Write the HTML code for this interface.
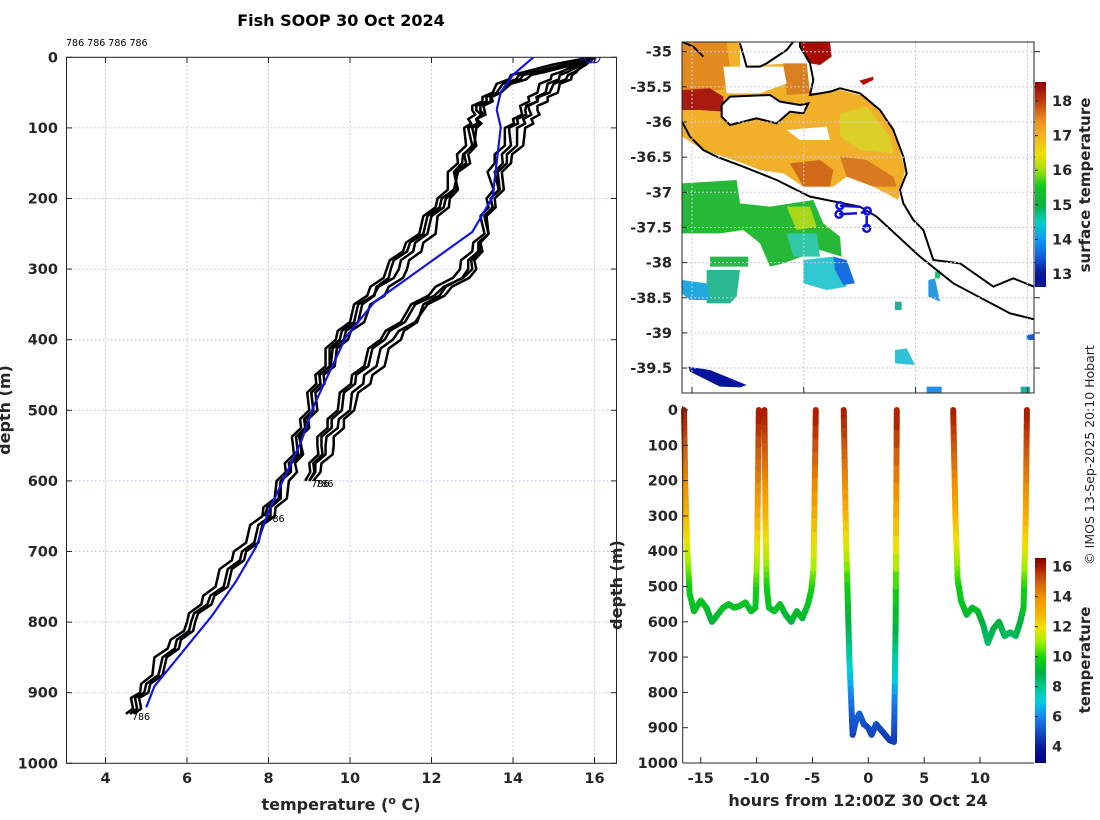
<!DOCTYPE html>
<html><head><meta charset="utf-8"><style>
html,body{margin:0;padding:0;background:#fff}
svg{display:block;font-family:"DejaVu Sans","Liberation Sans",sans-serif}
.tk{font-size:14.5px;font-weight:bold;fill:#262626}
.lb{font-size:16px;font-weight:bold;fill:#262626}
</style></head><body>
<svg id="s" width="1100" height="820" viewBox="0 0 1100 820">
<defs>
<linearGradient id="gTop" x1="0" y1="1" x2="0" y2="0">
<stop offset="0" stop-color="#0a1490"/><stop offset="0.07" stop-color="#0a1a9a"/><stop offset="0.15" stop-color="#1060e0"/><stop offset="0.24" stop-color="#10a0f0"/><stop offset="0.32" stop-color="#00d0c0"/><stop offset="0.4" stop-color="#10b040"/><stop offset="0.49" stop-color="#10c820"/><stop offset="0.57" stop-color="#a0e010"/><stop offset="0.65" stop-color="#f0e000"/><stop offset="0.74" stop-color="#f8b020"/><stop offset="0.82" stop-color="#e88a20"/><stop offset="0.9" stop-color="#c04010"/><stop offset="1" stop-color="#900000"/>
</linearGradient>
<linearGradient id="gBot" x1="0" y1="1" x2="0" y2="0">
<stop offset="0" stop-color="#000080"/><stop offset="0.08" stop-color="#0a1a9a"/><stop offset="0.22" stop-color="#1a80f0"/><stop offset="0.3" stop-color="#00d0e0"/><stop offset="0.37" stop-color="#00c890"/><stop offset="0.44" stop-color="#00b040"/><stop offset="0.51" stop-color="#10d010"/><stop offset="0.59" stop-color="#a0f000"/><stop offset="0.66" stop-color="#f0e000"/><stop offset="0.73" stop-color="#f8b000"/><stop offset="0.81" stop-color="#f09000"/><stop offset="0.88" stop-color="#d06010"/><stop offset="0.95" stop-color="#b02000"/><stop offset="1" stop-color="#800000"/>
</linearGradient>
<clipPath id="cMap"><rect x="682" y="42" width="352" height="351"/></clipPath>
<clipPath id="cLeft"><rect x="66.5" y="57.3" width="550" height="706"/></clipPath>
<clipPath id="cTopLab"><rect x="660" y="393" width="400" height="13"/></clipPath>
</defs>

<text x="341" y="26" text-anchor="middle" style="font-size:16px;font-weight:bold">Fish SOOP 30 Oct 2024</text>
<text x="66" y="46" style="font-size:9.5px">786 786 786 786</text>

<g id="left"></g>

<g>
<rect x="682" y="42" width="352" height="351" fill="#fff"/>
<g clip-path="url(#cMap)">
<g transform="translate(660 30) scale(0.33333)">
<polygon fill="#f2b02a" points="66,35 240,35 240,110 380,100 440,100 450,190 540,180 620,200 700,290 735,420 715,510 640,470 560,440 520,470 430,470 370,430 300,420 250,400 130,360 66,320"/>
<polygon fill="#e08a20" points="66,35 200,35 210,120 190,180 66,180"/>
<polygon fill="#a81c10" points="66,180 150,175 190,200 190,245 120,240 66,240"/>
<polygon fill="#d98020" points="370,100 440,100 450,190 380,195"/>
<polygon fill="#d06a18" points="390,400 480,390 520,420 510,470 430,470"/>
<polygon fill="#d97a20" points="540,380 620,390 700,440 710,470 640,470 560,440"/>
<polygon fill="#dcd028" points="540,250 620,230 690,320 700,370 600,360 540,320"/>
<polygon fill="#fff" points="190,110 370,110 380,160 300,190 200,190"/>
<polygon fill="#fff" points="240,35 400,35 400,60 320,100 260,110"/>
<polygon fill="#a80c00" points="420,35 510,35 515,80 480,105 450,100 425,60"/>
<polygon fill="#b01000" points="598,152 640,140 640,150 610,165"/>
<polygon fill="#fff" points="380,300 500,290 510,330 420,330"/>
<polygon fill="#28b838" points="66,460 230,450 240,520 330,530 460,510 490,580 540,620 545,680 480,660 370,700 330,710 300,640 250,600 180,610 66,610"/>
<polygon fill="#a8d818" points="380,530 450,530 470,590 410,600"/>
<polygon fill="#30c8a8" points="380,610 470,610 480,680 400,680"/>
<polygon fill="#2ab84a" points="150,680 265,680 265,710 150,710"/>
<polygon fill="#2ab890" points="140,720 240,720 230,800 210,820 140,820"/>
<polygon fill="#20a8e0" points="66,750 140,760 150,810 90,810 66,790"/>
<polygon fill="#30c8d0" points="430,690 520,680 540,720 560,770 500,780 430,760"/>
<polygon fill="#1870e0" points="520,680 560,690 585,760 550,765 525,720"/>
<polygon fill="#08149a" points="85,1010 150,1020 260,1065 240,1072 180,1070 90,1025"/>
<polygon fill="#30c0d8" points="705,960 740,955 765,1005 705,1000"/>
<polygon fill="#2090e8" points="800,1070 845,1070 845,1090 800,1090"/>
<polygon fill="#2a98e0" points="805,750 825,745 840,815 805,800"/>
<polygon fill="#20b090" points="705,815 725,815 725,840 705,840"/>
<polygon fill="#20c070" points="825,725 840,720 840,745 825,745"/>
<polygon fill="#1060d0" points="1100,915 1122,912 1122,930 1100,930"/>
<polygon fill="#20b0a0" points="1082,1070 1110,1070 1110,1088 1082,1088"/>
<polygon fill="#fff" points="185,225 210,200 330,195 360,215 420,225 445,220 430,250 390,245 350,280 290,265 210,285 185,260"/>
<g fill="none" stroke="#000" stroke-width="6">
<polyline points="185,225 210,200 330,195 360,215 420,225 445,220 430,250 390,245 350,280 290,265 210,285 185,260 185,225"/>
<polyline points="240,40 260,110 300,110 320,100 380,60 400,35"/>
<polyline points="420,35 420,50 450,100 460,150 450,195 480,190 510,185 540,175 600,190 660,240 700,300 730,380 740,430 720,480 730,520 760,570 790,600 820,690 900,700 1000,770 1060,745 1122,770"/>
<polyline points="66,275 90,320 130,360 170,380 250,410 350,450 450,500 600,530 650,560 780,680 880,760 1050,850 1122,868"/>
<polyline points="66,35 100,50 130,80"/>
</g>
</g>
<g fill="none" stroke="#1010e0" stroke-width="2.5">
<circle cx="840" cy="205.7" r="3.5"/><circle cx="839" cy="214.3" r="3.5"/><circle cx="867.3" cy="211" r="3.5"/><circle cx="866.7" cy="228.3" r="3.5"/>
<polyline points="840,205.7 860,206.7"/><polyline points="839,214.3 857,213.3"/><polyline points="861,213 867.3,211"/><polyline points="866.7,216 866.7,228.3"/>
</g>
</g>
<g id="mapaxes"></g>
</g>
<rect x="1035" y="82" width="11" height="205" fill="url(#gTop)"/>
<g id="topcb"></g>
<text transform="translate(1090 185) rotate(-90)" text-anchor="middle" class="lb" style="font-size:15px">surface temperature</text>

<g id="bottom"></g>
<rect x="1035" y="558" width="11" height="205" fill="url(#gBot)"/>
<g id="botcb"></g>
<text transform="translate(1090 660) rotate(-90)" text-anchor="middle" class="lb" style="font-size:15px">temperature</text>
<text transform="translate(1094 455) rotate(-90)" text-anchor="middle" style="font-size:12.5px;fill:#262626">© IMOS 13-Sep-2025 20:10 Hobart</text>
</svg>
<script>
// ---- profile data ----
const depthLevels=[0,10,25,50,75,100,150,200,250,300,350,400,450,500,550,600,650,700,750,800,850,900,930];
const profileL1=[15.9,15.5,14.5,13.6,13.3,13.0,12.8,12.4,11.8,11.2,10.3,9.7,9.3,9.0,8.7,8.4,8.0,7.4,6.8,6.1,5.5,4.9,4.6];
const profileL2=[15.8,15.3,14.2,13.5,13.1,13.2,12.7,12.5,12.0,11.4,10.6,9.9,9.4,9.1,8.8,8.6,8.1,7.5,6.9,6.2,5.6,5.0,4.7];
const profileL3=[15.9,15.0,14.0,13.4,13.0,12.9,12.6,12.2,11.6,10.9,10.2,9.6,9.2,8.9,8.6,8.3,7.8,7.2,6.6,6.0,5.3,4.8,4.5];
const profileL4=[15.8,15.4,14.3,13.6,13.2,13.1,12.9,12.3,11.7,11.0,10.4,9.8,9.3,9.0,8.8,8.4,7.9];
const profileR1=[16.0,15.8,15.4,14.8,14.3,14.0,13.7,13.5,13.3,13.1,12.0,11.0,10.4,9.9,9.4,9.0];
const profileR2=[15.9,15.6,15.0,14.5,14.2,13.9,13.5,13.4,13.2,12.7,11.6,10.7,10.1,9.6,9.2,8.9];
const profileR3=[16.0,15.7,15.5,15.0,14.6,14.4,13.9,13.6,13.3,12.9,11.9,11.2,10.6,10.0,9.6,9.1];
const profileR4=[15.9,15.7,15.2,14.7,14.4,14.2,13.8,13.5,13.3,13.0,11.7,10.8,10.2,9.7,9.3,9.0];
const climatology=[14.5,14.3,14.0,13.7,13.6,13.7,13.6,13.5,13.0,11.8,10.6,9.9,9.5,9.1,8.8,8.4,8.0,7.7,7.2,6.6,5.9,5.2,5.0];
const tempTicks=[4,6,8,10,12,14,16];
const depthTicks=[0,100,200,300,400,500,600,700,800,900,1000];
// ---- track data ----
const trackHours=[[-16.5,-16.4,-16.2,-16.0,-15.6,-15.0,-14.5,-14.0,-13.5,-13.0,-12.5,-12.0,-11.5,-11.0,-10.5,-10.1,-9.95,-9.8],
[-9.3,-9.2,-9.1,-8.9,-8.4,-7.9,-7.4,-6.9,-6.4,-5.9,-5.4,-5.1,-4.9,-4.7],
[-2.2,-2.0,-1.7,-1.4,-1.1,-0.8,-0.4,0,0.3,0.7,1.1,1.5,1.9,2.3,2.45,2.55],
[7.6,7.8,8.0,8.3,8.8,9.3,9.8,10.3,10.7,11.2,11.7,12.2,12.7,13.2,13.6,13.9,14.1,14.2]];
const trackDepths=[[0,200,400,520,570,540,560,600,580,560,550,560,555,545,570,560,400,0],
[0,300,500,560,570,550,580,600,570,590,550,510,450,0],
[0,350,700,920,880,860,890,900,920,890,905,920,935,940,600,0],
[0,300,480,540,580,560,570,610,660,620,600,640,630,640,600,560,300,0]];
const trackProfileD=[0,100,200,300,400,500,560,650,750,850,920,1000];
const trackProfileT=[16.2,15.2,14.2,13.0,11.6,10.0,9.5,8.5,7.0,5.5,4.8,4.0];
const hourTicks=[-15,-10,-5,0,5,10];
const sstTicks=[13,14,15,16,17,18];
const tempCbTicks=[4,6,8,10,12,14,16];
const latTicks=[-35,-35.5,-36,-36.5,-37,-37.5,-38,-38.5,-39,-39.5];
const lonTicks=[136,138,140,142];

const NS='http://www.w3.org/2000/svg';
function mk(tag,attrs,parent){const e=document.createElementNS(NS,tag);for(const k in attrs)e.setAttribute(k,attrs[k]);parent.appendChild(e);return e;}
const xT=t=>105.5+(t-4)*40.75, yD=d=>57.3+d*0.706;
const L=document.getElementById('left');
mk('rect',{x:66.5,y:57.3,width:550,height:706,fill:'#fff'},L);
tempTicks.forEach(t=>{const l=mk('line',{x1:xT(t),x2:xT(t),y1:57.3,y2:763,stroke:'#c8c8e8','stroke-dasharray':'2,2'},L);});
depthTicks.forEach(d=>{const l=mk('line',{x1:66.5,x2:616.5,y1:yD(d),y2:yD(d),stroke:'#c8c8e8','stroke-dasharray':'2,2'},L);});
const cg=mk('g',{'clip-path':'url(#cLeft)'},L);
const profiles=[profileL1,profileL2,profileL3,profileL4,profileR1,profileR2,profileR3,profileR4];
profiles.forEach((p,i)=>{
  // densify with small jitter for a rough look
  const pts=[];
  for(let j=0;j<p.length-1;j++){for(let k=0;k<4;k++){const f=k/4;const tt=p[j]+(p[j+1]-p[j])*f;const dd=depthLevels[j]+(depthLevels[j+1]-depthLevels[j])*f;const w=(j>1)?(((j*4+k)*7+i*5)%5-2)*0.05:0;pts.push(xT(tt+w)+','+yD(dd));}}
  const last=p.length-1;pts.push(xT(p[last])+','+yD(depthLevels[last]));
  const pl=mk('polyline',{points:pts.join(' '),fill:'none',stroke:'#000','stroke-width':2.5,'stroke-linejoin':'round'},cg);
  
  
  const ci=mk('circle',{cx:xT(p[0]),cy:yD(0),r:5.5,fill:'none',stroke:'#2020e0','stroke-width':1},cg);
  
  
  if(i===0||i===3||i===4||i===6){const tx=mk('text',{x:xT(p[last])+2,y:yD(depthLevels[last])+6,'font-size':9.5},L);tx.textContent='786';}
});
const cl=mk('polyline',{points:climatology.map((t,j)=>xT(t)+','+yD(depthLevels[j]*0.99)).join(' '),fill:'none',stroke:'#1515e0','stroke-width':2.2},cg);


mk('rect',{x:66.5,y:57.3,width:550,height:706,fill:'none',stroke:'#262626','stroke-width':1},L);
tempTicks.forEach(t=>{mk('line',{x1:xT(t),x2:xT(t),y1:57.3,y2:63,stroke:'#262626'},L);mk('line',{x1:xT(t),x2:xT(t),y1:763,y2:757,stroke:'#262626'},L);const tx=mk('text',{x:xT(t),y:783,'text-anchor':'middle',class:'tk'},L);tx.textContent=t;});
depthTicks.forEach(d=>{mk('line',{x1:66.5,x2:72,y1:yD(d),y2:yD(d),stroke:'#262626'},L);mk('line',{x1:616.5,x2:611,y1:yD(d),y2:yD(d),stroke:'#262626'},L);const tx=mk('text',{x:58,y:yD(d)+5,'text-anchor':'end',class:'tk'},L);tx.textContent=d;});
let t=mk('text',{x:341,y:810,'text-anchor':'middle',class:'lb'},L);t.innerHTML='temperature (<tspan dy="-6" font-size="11">o</tspan><tspan dy="6"> C)</tspan>';
t=mk('text',{transform:'translate(10 410) rotate(-90)','text-anchor':'middle',class:'lb'},L);t.textContent='depth (m)';

const M=document.getElementById('mapaxes');
const lx=lon=>692+(lon-136)*55.9, ly=lat=>51.7+(-35-lat)*70.3;
latTicks.forEach(v=>{mk('line',{x1:682,x2:1034,y1:ly(v),y2:ly(v),stroke:'#c8c8e8','stroke-dasharray':'2,2'},M);mk('line',{x1:1034,x2:1040,y1:ly(v),y2:ly(v),stroke:'#262626'},M);mk('line',{x1:682,x2:687,y1:ly(v),y2:ly(v),stroke:'#262626'},M);const tx=mk('text',{x:672,y:ly(v)+5,'text-anchor':'end',class:'tk'},M);tx.textContent=v;});
lonTicks.forEach(v=>{mk('line',{x1:lx(v),x2:lx(v),y1:42,y2:393,stroke:'#c8c8e8','stroke-dasharray':'2,2'},M);mk('line',{x1:lx(v),x2:lx(v),y1:393,y2:387,stroke:'#262626'},M);});
mk('rect',{x:682,y:42,width:352,height:351,fill:'none',stroke:'#262626'},M);
const TC=document.getElementById('topcb');
sstTicks.forEach(v=>{const y=274-(v-13)*34.6;mk('line',{x1:1035,x2:1038,y1:y,y2:y,stroke:'#262626'},TC);const tx=mk('text',{x:1052,y:y+5,class:'tk'},TC);tx.textContent=v;});

const B=document.getElementById('bottom');
const hx=h=>868.3+h*11.17, dy=d=>410+d*0.353;
mk('rect',{x:682.7,y:393.5,width:351,height:370,fill:'#fff'},B);
lonTicks.forEach(v=>{const tx=mk('text',{x:lx(v),y:418,'text-anchor':'middle',class:'tk','clip-path':'url(#cTopLab)'},B);tx.textContent=v;});
const cols=[[3,[0,0,128]],[4,[10,26,154]],[6,[26,128,240]],[7,[0,208,224]],[8,[0,200,144]],[9,[0,176,64]],[10,[16,208,16]],[11,[160,240,0]],[12,[240,224,0]],[13,[248,176,0]],[14,[240,144,0]],[15,[208,96,16]],[16,[176,32,0]],[17,[128,0,0]]];
function cmap(v){for(let i=0;i<cols.length-1;i++){if(v<=cols[i+1][0]){const f=Math.max(0,(v-cols[i][0])/(cols[i+1][0]-cols[i][0]));const c=cols[i][1].map((a,k)=>Math.round(a+(cols[i+1][1][k]-a)*f));return 'rgb('+c+')';}}return 'rgb(128,0,0)';}
function tempAt(d){for(let i=0;i<trackProfileD.length-1;i++){if(d<=trackProfileD[i+1]){const f=(d-trackProfileD[i])/(trackProfileD[i+1]-trackProfileD[i]);return trackProfileT[i]+f*(trackProfileT[i+1]-trackProfileT[i]);}}return 4;}
trackHours.forEach((hs,s)=>{const ds=trackDepths[s];const g=mk('g',{},B);
  for(let i=0;i<hs.length-1;i++){const n=12;for(let k=0;k<n;k++){const f0=k/n,f1=(k+1)/n;const h0=hs[i]+(hs[i+1]-hs[i])*f0,h1=hs[i]+(hs[i+1]-hs[i])*f1,d0=ds[i]+(ds[i+1]-ds[i])*f0,d1=ds[i]+(ds[i+1]-ds[i])*f1;
    mk('line',{x1:hx(h0),y1:dy(d0),x2:hx(h1),y2:dy(d1),stroke:cmap(tempAt((d0+d1)/2)),'stroke-width':6,'stroke-linecap':'round'},g);}}});
mk('line',{x1:682.7,x2:682.7,y1:406,y2:763,stroke:'#262626'},B);
mk('line',{x1:682.7,x2:1034,y1:763,y2:763,stroke:'#262626'},B);
hourTicks.forEach(h=>{mk('line',{x1:hx(h),x2:hx(h),y1:763,y2:757,stroke:'#262626'},B);const tx=mk('text',{x:hx(h),y:783,'text-anchor':'middle',class:'tk'},B);tx.textContent=h;});
depthTicks.forEach(d=>{mk('line',{x1:682.7,x2:688,y1:dy(d),y2:dy(d),stroke:'#262626'},B);const tx=mk('text',{x:678,y:dy(d)+5,'text-anchor':'end',class:'tk'},B);tx.textContent=d;});
t=mk('text',{x:858,y:806,'text-anchor':'middle',class:'lb'},B);t.textContent='hours from 12:00Z 30 Oct 24';
t=mk('text',{transform:'translate(622 585) rotate(-90)','text-anchor':'middle',class:'lb'},B);t.textContent='depth (m)';
const BC=document.getElementById('botcb');
tempCbTicks.forEach(v=>{const y=746.7-(v-4)*15;mk('line',{x1:1035,x2:1038,y1:y,y2:y,stroke:'#262626'},BC);const tx=mk('text',{x:1052,y:y+5,class:'tk'},BC);tx.textContent=v;});
</script>
</body></html>
